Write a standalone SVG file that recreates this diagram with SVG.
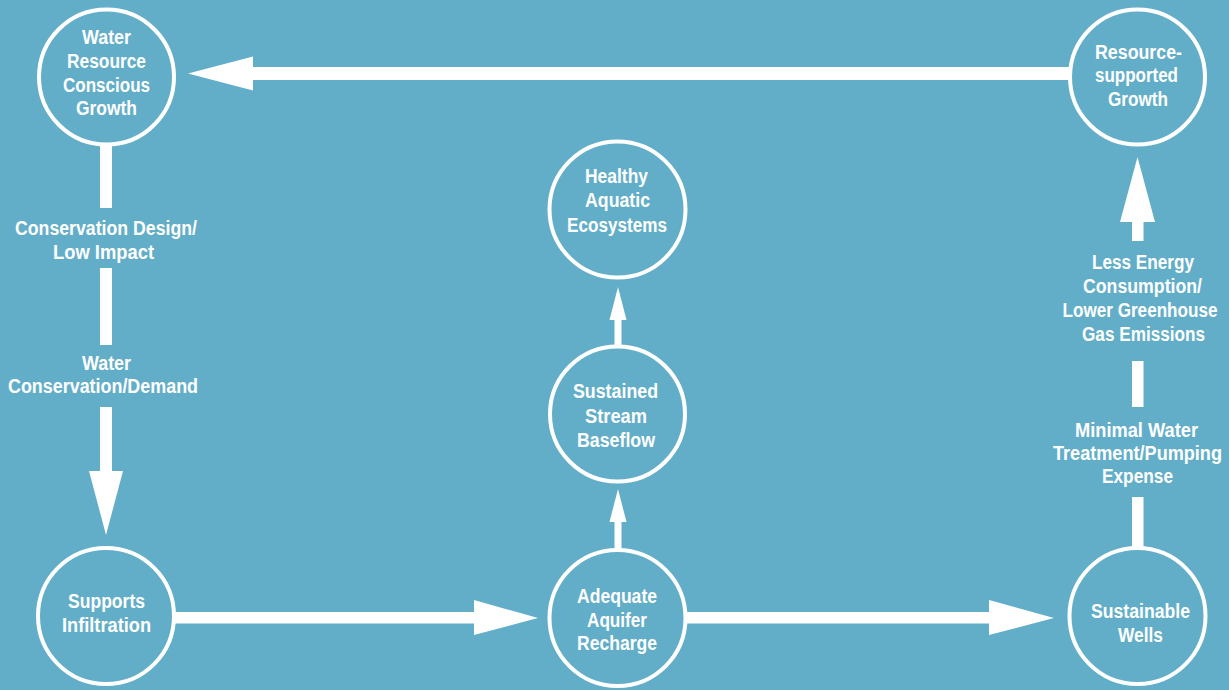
<svg xmlns="http://www.w3.org/2000/svg" width="1229" height="690" viewBox="0 0 1229 690">
<style>
.node{fill:none;stroke:#ffffff;stroke-width:4}
.t{font-family:"Liberation Sans",Arial,sans-serif;font-weight:bold;font-size:20px;fill:#ffffff;text-anchor:middle}
.c{fill:#ffffff;stroke:none}
</style>
<rect x="0" y="0" width="1229" height="690" fill="#62aec9"/>
<g id="connectors">
  <rect class="c" x="251" y="67" width="818" height="13"/>
  <polygon class="c" points="188,73.5 253,56.5 253,90.5"/>
  <rect class="c" x="100" y="145" width="12" height="63"/>
  <rect class="c" x="100" y="268" width="12" height="77"/>
  <rect class="c" x="100" y="407" width="12" height="65"/>
  <polygon class="c" points="89,471 123,471 106,535"/>
  <rect class="c" x="173" y="612" width="302" height="11.5"/>
  <polygon class="c" points="474,600 538,618 474,635"/>
  <rect class="c" x="685" y="612" width="305" height="11.5"/>
  <polygon class="c" points="989,600 1054,618 989,635"/>
  <rect class="c" x="1132" y="497" width="11.5" height="50"/>
  <rect class="c" x="1132" y="361" width="11.5" height="46"/>
  <rect class="c" x="1132" y="221" width="11.5" height="20"/>
  <polygon class="c" points="1120,222 1155,222 1137.5,157"/>
  <rect class="c" x="614.5" y="319" width="7" height="28"/>
  <polygon class="c" points="609.5,320 626.5,320 618,287"/>
  <rect class="c" x="614.5" y="521" width="7" height="29"/>
  <polygon class="c" points="609.5,522 626.5,522 618,489"/>
</g>
<g id="n-water-resource">
  <circle class="node" cx="106.5" cy="77" r="67.5"/>
  <text class="t" x="106.5" y="44" textLength="49" lengthAdjust="spacingAndGlyphs">Water</text>
  <text class="t" x="106.5" y="68" textLength="79" lengthAdjust="spacingAndGlyphs">Resource</text>
  <text class="t" x="106.5" y="92" textLength="87" lengthAdjust="spacingAndGlyphs">Conscious</text>
  <text class="t" x="106.5" y="115" textLength="61" lengthAdjust="spacingAndGlyphs">Growth</text>
</g>
<g id="n-resource-supported">
  <circle class="node" cx="1137.5" cy="77" r="67.5"/>
  <text class="t" x="1138.5" y="59" textLength="87" lengthAdjust="spacingAndGlyphs">Resource-</text>
  <text class="t" x="1136.5" y="82" textLength="83" lengthAdjust="spacingAndGlyphs">supported</text>
  <text class="t" x="1138" y="106" textLength="60" lengthAdjust="spacingAndGlyphs">Growth</text>
</g>
<g id="n-healthy">
  <circle class="node" cx="617.5" cy="209.5" r="68"/>
  <text class="t" x="616.5" y="183" textLength="63" lengthAdjust="spacingAndGlyphs">Healthy</text>
  <text class="t" x="617.5" y="207" textLength="65" lengthAdjust="spacingAndGlyphs">Aquatic</text>
  <text class="t" x="617" y="232" textLength="100" lengthAdjust="spacingAndGlyphs">Ecosystems</text>
</g>
<g id="n-sustained">
  <circle class="node" cx="617.5" cy="414" r="67.5"/>
  <text class="t" x="615.5" y="398" textLength="85" lengthAdjust="spacingAndGlyphs">Sustained</text>
  <text class="t" x="616" y="423" textLength="62" lengthAdjust="spacingAndGlyphs">Stream</text>
  <text class="t" x="616" y="447" textLength="78" lengthAdjust="spacingAndGlyphs">Baseflow</text>
</g>
<g id="n-supports">
  <circle class="node" cx="106" cy="616" r="68"/>
  <text class="t" x="106.5" y="608" textLength="77" lengthAdjust="spacingAndGlyphs">Supports</text>
  <text class="t" x="106.5" y="632" textLength="89" lengthAdjust="spacingAndGlyphs">Infiltration</text>
</g>
<g id="n-adequate">
  <circle class="node" cx="617.5" cy="618" r="68"/>
  <text class="t" x="617" y="603" textLength="80" lengthAdjust="spacingAndGlyphs">Adequate</text>
  <text class="t" x="617" y="627" textLength="60" lengthAdjust="spacingAndGlyphs">Aquifer</text>
  <text class="t" x="617" y="650" textLength="80" lengthAdjust="spacingAndGlyphs">Recharge</text>
</g>
<g id="n-wells">
  <circle class="node" cx="1137.5" cy="616" r="68"/>
  <text class="t" x="1140.5" y="618" textLength="99" lengthAdjust="spacingAndGlyphs">Sustainable</text>
  <text class="t" x="1140.5" y="642" textLength="45" lengthAdjust="spacingAndGlyphs">Wells</text>
</g>
<g id="labels">
  <text class="t" x="106" y="235" textLength="182" lengthAdjust="spacingAndGlyphs">Conservation Design/</text>
  <text class="t" x="103.5" y="259" textLength="101" lengthAdjust="spacingAndGlyphs">Low Impact</text>
  <text class="t" x="106.5" y="370" textLength="49" lengthAdjust="spacingAndGlyphs">Water</text>
  <text class="t" x="103" y="393" textLength="190" lengthAdjust="spacingAndGlyphs">Conservation/Demand</text>
  <text class="t" x="1143" y="269" textLength="102" lengthAdjust="spacingAndGlyphs">Less Energy</text>
  <text class="t" x="1142.5" y="293" textLength="119" lengthAdjust="spacingAndGlyphs">Consumption/</text>
  <text class="t" x="1140" y="317" textLength="155" lengthAdjust="spacingAndGlyphs">Lower Greenhouse</text>
  <text class="t" x="1143.5" y="341" textLength="123" lengthAdjust="spacingAndGlyphs">Gas Emissions</text>
  <text class="t" x="1136.5" y="437" textLength="123" lengthAdjust="spacingAndGlyphs">Minimal Water</text>
  <text class="t" x="1137.5" y="460" textLength="169" lengthAdjust="spacingAndGlyphs">Treatment/Pumping</text>
  <text class="t" x="1137.5" y="483" textLength="71" lengthAdjust="spacingAndGlyphs">Expense</text>
</g>
</svg>
